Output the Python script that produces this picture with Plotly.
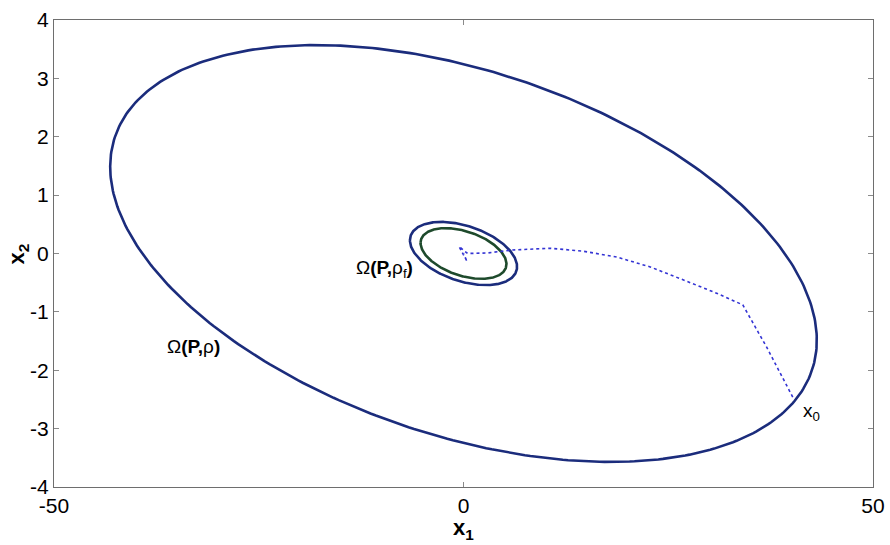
import numpy as np
import plotly.graph_objects as go

# Quadratic form P of the invariant ellipses  Ω(P, ρ) = {x : xᵀ P x <= ρ}
P = [[0.00065, 0.00327],
     [0.00327, 0.0949]]
rho_big = 1.0        # Ω(P,ρ)
rho_f = 0.023        # Ω(P,ρ_f)
rho_inner = 0.0148   # inner (green) level set

# Closed-loop trajectory
traj_x1 = [40.2, 38.6, 37.0, 34.1, 30.9, 26.8, 22.8, 18.7, 14.6, 10.6, 8.0, 6.0, 3.0, 0.5, -0.55, 0.45, 0.0]
traj_x2 = [-2.46, -2.02, -1.60, -0.88, -0.68, -0.45, -0.23, -0.06, 0.04, 0.09, 0.08, 0.06, 0.01, 0.0, 0.12, -0.14, 0.0]

x_ticks = [-50, 0, 50]
y_ticks = [-4, -3, -2, -1, 0, 1, 2, 3, 4]


def level_set(Pm, rho, n=400):
    Pm = np.array(Pm)
    w, V = np.linalg.eigh(Pm)
    t = np.linspace(0, 2 * np.pi, n)
    circ = np.vstack([np.cos(t), np.sin(t)])
    pts = V @ (np.sqrt(rho / w)[:, None] * circ)
    return pts[0], pts[1]


navy = "#1b2c7c"
green = "#1e4a2c"

fig = go.Figure()
for rho, col in [(rho_big, navy), (rho_f, navy), (rho_inner, green)]:
    ex, ey = level_set(P, rho)
    fig.add_trace(go.Scatter(x=ex, y=ey, mode="lines",
                             line=dict(color=col, width=2.6), hoverinfo="skip"))

fig.add_trace(go.Scatter(x=traj_x1, y=traj_x2, mode="lines",
                         line=dict(color="#3434d4", width=1.6, dash="dot"),
                         hoverinfo="skip"))

font = "Liberation Sans, Arial, sans-serif"
ann_font = dict(family=font, size=19, color="black")
fig.add_annotation(x=-33.0, y=-1.60, text="Ω<b>(P,</b>ρ<b>)</b>",
                   showarrow=False, font=ann_font)
fig.add_annotation(x=-9.6, y=-0.27, text="Ω<b>(P,</b>ρ<sub>f</sub><b>)</b>",
                   showarrow=False, font=ann_font)
fig.add_annotation(x=42.5, y=-2.72, text="x<sub>0</sub>",
                   showarrow=False, font=ann_font)

# axis titles as paper-positioned annotations
title_font = dict(family=font, size=22, color="black")
fig.add_annotation(xref="paper", yref="paper", x=0.5, y=-0.058,
                   xanchor="center", yanchor="top", showarrow=False,
                   borderpad=0, text="<b>x<sub>1</sub></b>", font=title_font)
fig.add_annotation(xref="paper", yref="paper", x=-0.044, y=0.5,
                   xanchor="center", yanchor="middle", showarrow=False,
                   textangle=-90, text="<b>x<sub>2</sub></b>", font=title_font)

axis_common = dict(showgrid=False, zeroline=False, showline=True,
                   linecolor="#6e6e6e", linewidth=1, mirror="ticks",
                   ticks="inside", ticklen=5, tickcolor="#8a8a8a",
                   automargin=False,
                   tickfont=dict(family=font, size=21, color="black"))

fig.update_xaxes(range=[-50, 50], tickvals=x_ticks,
                 ticktext=[str(v) for v in x_ticks], **axis_common)
fig.update_yaxes(range=[-4, 4], tickvals=y_ticks,
                 ticktext=[str(v) for v in y_ticks], **axis_common)

fig.update_layout(width=890, height=545, showlegend=False,
                  margin=dict(l=54, r=17, t=20, b=58),
                  plot_bgcolor="white", paper_bgcolor="white")

fig.write_html("out.html")
